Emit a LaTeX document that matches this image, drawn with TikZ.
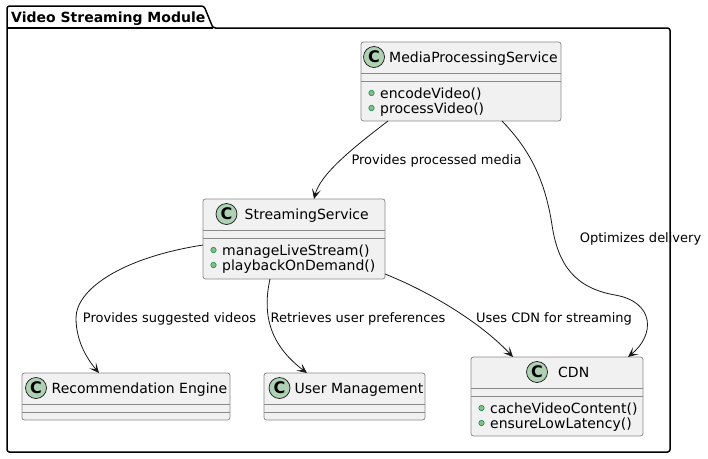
\documentclass[tikz,border=0pt]{standalone}
\usepackage{fontspec}
\setmainfont{DejaVu Sans}
\usepackage{tikz}
\usetikzlibrary{arrows.meta}

\definecolor{classfill}{HTML}{F1F1F1}
\definecolor{classline}{HTML}{181818}
\definecolor{boxline}{HTML}{8A8A8A}
\definecolor{spotfill}{HTML}{ADD1B2}
\definecolor{methodfill}{HTML}{84BE84}
\definecolor{methodline}{HTML}{038048}

\tikzset{
  classbox/.style={draw=boxline, fill=classfill, line width=0.8pt, rounded corners=2.5pt, inner sep=0pt, outer sep=0pt},
  classsep/.style={draw=boxline, line width=0.8pt},
  spot/.style={circle, draw=classline, fill=spotfill, line width=0.7pt, minimum size=21pt, inner sep=0pt, font=\fontsize{16}{16}\selectfont\bfseries},
  classname/.style={anchor=base west, inner sep=0pt, font=\fontsize{14}{16}\selectfont},
  method/.style={anchor=base west, inner sep=0pt, font=\fontsize{14}{16}\selectfont},
  methoddot/.style={circle, draw=methodline, fill=methodfill, line width=0.5pt, minimum size=5.5pt, inner sep=0pt},
  rel/.style={draw=classline, line width=0.8pt, -{Stealth[length=10pt,width=9pt,inset=5pt]}},
  rellabel/.style={anchor=base, inner sep=0pt, font=\fontsize{13}{15}\selectfont}
}

\begin{document}
\begin{tikzpicture}[x=1pt, y=-1pt]
    \fill[white] (0,0) rectangle (708,458);
    \useasboundingbox (0,0) rectangle (708,458);

    % package frame
    \draw[line width=1.5pt, rounded corners=2.5pt] (7,452) -- (7,6) -- (204,6) -- (213,28) -- (670,28) -- (670,452) -- cycle;
    \draw[line width=1.5pt] (7,28) -- (213,28);
    \node[anchor=base west, inner sep=0pt, font=\fontsize{14}{16}\selectfont\bfseries] (pkgtitle) at (11,22) {Video Streaming Module};

    % MediaProcessingService
    \node[classbox, minimum width=200pt, minimum height=79pt] (mps) at (461,81.5) {};
    \node[spot] (mpsspot) at (374,57) {C};
    \node[classname] (mpsname) at (389,62) {MediaProcessingService};
    \draw[classsep] (361,73) -- (561,73);
    \draw[classsep] (361,81) -- (561,81);
    \node[methoddot] (mpsdota) at (371.5,93) {};
    \node[method] (mpsencode) at (380,98) {encodeVideo()};
    \node[methoddot] (mpsdotb) at (371.5,108) {};
    \node[method] (mpsprocess) at (380,113) {processVideo()};

    % StreamingService
    \node[classbox, minimum width=182pt, minimum height=80pt] (ss) at (294,239) {};
    \node[spot] (ssspot) at (226.5,214) {C};
    \node[classname] (ssname) at (244.5,219) {StreamingService};
    \draw[classsep] (203,230) -- (385,230);
    \draw[classsep] (203,238) -- (385,238);
    \node[methoddot] (ssdota) at (213.5,250) {};
    \node[method] (sslive) at (222,255) {manageLiveStream()};
    \node[methoddot] (ssdotb) at (213.5,265) {};
    \node[method] (ssdemand) at (222,270) {playbackOnDemand()};

    % Recommendation Engine
    \node[classbox, minimum width=208pt, minimum height=47pt] (re) at (126,396.5) {};
    \node[spot] (respot) at (36,388) {C};
    \node[classname] (rename) at (51.5,393) {Recommendation Engine};
    \draw[classsep] (22,404) -- (230,404);
    \draw[classsep] (22,412) -- (230,412);

    % User Management
    \node[classbox, minimum width=161pt, minimum height=47pt] (um) at (344.5,396.5) {};
    \node[spot] (umspot) at (279.5,388) {C};
    \node[classname] (umname) at (294.5,393) {User Management};
    \draw[classsep] (264,404) -- (425,404);
    \draw[classsep] (264,412) -- (425,412);

    % CDN
    \node[classbox, minimum width=172pt, minimum height=79pt] (cdn) at (557,396.5) {};
    \node[spot] (cdnspot) at (537,372) {C};
    \node[classname] (cdnname) at (558,377) {CDN};
    \draw[classsep] (471,388) -- (643,388);
    \draw[classsep] (471,396) -- (643,396);
    \node[methoddot] (cdndota) at (481.5,408) {};
    \node[method] (cdncache) at (490,413) {cacheVideoContent()};
    \node[methoddot] (cdndotb) at (481.5,423) {};
    \node[method] (cdnlatency) at (490,428) {ensureLowLatency()};

    % relations
    \draw[rel] ([xshift=-73pt]mps.south) .. controls (350,150) and (320,175) .. ([xshift=20pt]ss.north);
    \draw[rel] ([xshift=41pt]mps.south) .. controls (530,150) and (545,180) .. (552,225)
        .. controls (558,265) and (575,288) .. (615,295)
        .. controls (655,302) and (655,335) .. ([xshift=71pt]cdn.north);
    \draw[rel] ([yshift=-6pt]ss.west) .. controls (120,258) and (76,290) .. (76,318)
        .. controls (76,342) and (88,360) .. ([xshift=-27pt]re.north);
    \draw[rel] ([xshift=-24pt]ss.south) .. controls (262,315) and (270,345) .. ([xshift=-37.5pt]um.north);
    \draw[rel] ([yshift=-35pt]ss.east) .. controls (430,292) and (480,322) .. ([xshift=-44pt]cdn.north);

    \node[rellabel] (lprocessed) at (436.5,164.5) {Provides processed media};
    \node[rellabel] (ldelivery) at (640.5,242.8) {Optimizes delivery};
    \node[rellabel] (lsuggested) at (169.5,322.3) {Provides suggested videos};
    \node[rellabel] (lprefs) at (358,322.3) {Retrieves user preferences};
    \node[rellabel] (lcdn) at (554,322.3) {Uses CDN for streaming};
\end{tikzpicture}
\end{document}
